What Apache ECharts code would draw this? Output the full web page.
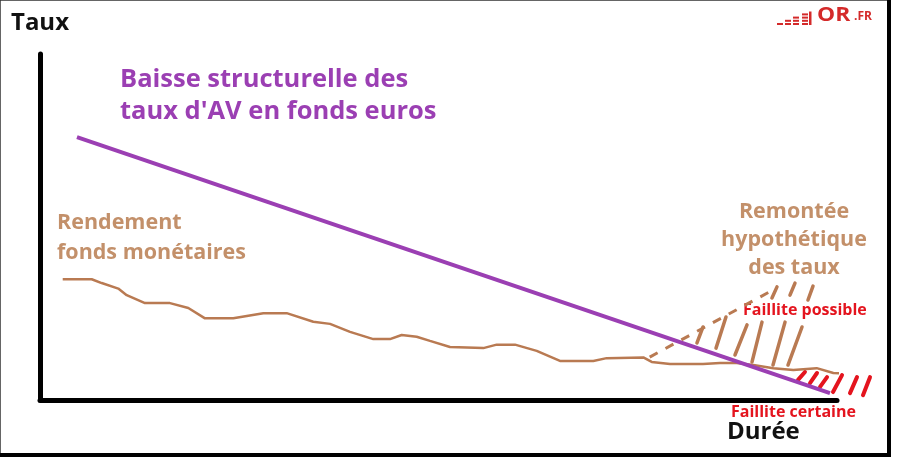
<!DOCTYPE html>
<html><head><meta charset="utf-8">
<script src="https://cdn.jsdelivr.net/npm/echarts@6/dist/echarts.min.js"></script>
<style>html,body{margin:0;padding:0;background:#fff}#c{width:912px;height:459px}</style>
</head><body><div id="c"></div>
<script>
// Durée (x) / Taux (y) in arbitrary units
const monetaryRate = [[2.85,34.9],[6.49,34.9],[7.74,33.8],[9.82,32.2],[10.88,30.3],[13.17,28.0],[16.31,28.0],[18.61,26.6],[20.70,23.6],[24.25,23.6],[28.02,25.1],[30.95,25.1],[34.29,22.6],[36.39,22.0],[38.90,19.7],[41.82,17.6],[43.91,17.6],[45.38,18.8],[47.26,18.3],[48.93,17.1],[51.44,15.3],[55.62,15.0],[57.30,16.0],[59.60,16.0],[62.32,14.2],[65.24,11.3],[69.42,11.3],[71.10,12.1],[75.70,12.3],[76.75,11.0],[79.05,10.4],[83.19,10.4],[85.32,10.7],[87.41,10.7],[89.50,10.1],[92.01,9.2],[94.52,8.7],[97.45,9.2],[99.54,7.8],[102.05,7.5],[103.73,8.1]];
const euroFundRate = [[4.64,76.0],[99.12,2.0]];
const hypotheticalRise = [[76.5,12.4],[92.2,32.1]];
const possibleHatch = [
  [[83.19,21.1],[82.43,16.5]],[[86.07,24.0],[84.82,15.0]],[[88.71,21.7],[87.20,13.0]],
  [[90.59,22.5],[89.34,11.0]],[[93.48,22.5],[91.97,10.1]],[[95.61,21.1],[93.85,10.1]],
  [[92.47,32.7],[91.84,29.5]],[[94.73,33.8],[94.10,30.3]],[[96.99,32.9],[96.36,28.9]]
];
const certainHatch = [
  [[95.98,8.1],[95.11,5.8]],[[97.49,7.8],[96.61,4.9]],[[98.75,6.6],[97.87,3.8]],
  [[100.63,7.2],[99.50,2.3]],[[102.51,6.6],[101.63,2.0]],[[104.14,6.6],[103.26,1.4]]
];
const labels = {
  yName:'Taux', xName:'Durée',
  euro:'Baisse structurelle des\ntaux d\'AV en fonds euros',
  mon:'Rendement\nfonds monétaires',
  rise:'Remontée\nhypothétique\ndes taux',
  possible:'Faillite possible', certain:'Faillite certaine'
};

const brown='#b97a52', brownText='#c3906a', purple='#9b3fb3', red='#e4141e';
const F='"Open Sans"';
const chart = echarts.init(document.getElementById('c'));
const logo=[];
const cols=[{x:777,n:1},{x:785,n:2},{x:793,n:3},{x:802,n:4}];
cols.forEach(c=>{for(let i=0;i<c.n;i++){logo.push({type:'rect',shape:{x:c.x,y:23-i*3.2,width:6,height:2},style:{fill:'#d42a2a'}});}});
logo.push({type:'rect',shape:{x:809,y:11.5,width:2.5,height:13.5},style:{fill:'#d42a2a'}});
chart.setOption({
  animation:false,
  grid:{left:40,right:75,top:54,bottom:59},
  xAxis:{type:'value',min:0,max:100,axisLine:{lineStyle:{color:'#000',width:5}},axisTick:{show:false},axisLabel:{show:false},splitLine:{show:false}},
  yAxis:{type:'value',min:0,max:100,name:labels.yName,nameGap:19,nameTextStyle:{fontFamily:F,fontWeight:'bold',fontSize:24,color:'#111',align:'center'},
    axisLine:{show:true,lineStyle:{color:'#000',width:5}},axisTick:{show:false},axisLabel:{show:false},splitLine:{show:false}},
  series:[
    {type:'line',data:monetaryRate,showSymbol:false,clip:false,lineStyle:{color:brown,width:2.5},z:3},
    {type:'line',data:hypotheticalRise,showSymbol:false,clip:false,lineStyle:{color:brown,width:3,type:[9,9]},z:3},
    {type:'lines',coordinateSystem:'cartesian2d',clip:false,data:possibleHatch.map(c=>({coords:c})),lineStyle:{color:brown,width:3.5,opacity:1,cap:'round'},z:3},
    {type:'lines',coordinateSystem:'cartesian2d',clip:false,data:certainHatch.map(c=>({coords:c})),lineStyle:{color:red,width:4,opacity:1,cap:'round'},z:3},
    {type:'line',data:euroFundRate,showSymbol:false,clip:false,lineStyle:{color:purple,width:4},z:4}
  ],
  graphic:[
    {type:'rect',shape:{x:0,y:0,width:889,height:455},style:{fill:'none',stroke:'#333',lineWidth:1.5},z:-1},
    {type:'rect',shape:{x:887,y:0,width:4,height:457},style:{fill:'#000'}},
    {type:'rect',shape:{x:0,y:453,width:891,height:4},style:{fill:'#000'}},
    {type:'text',left:120,top:64,style:{text:labels.euro,font:'bold 25.5px '+F,fill:purple,lineHeight:32}},
    {type:'text',left:57,top:208,style:{text:labels.mon,font:'bold 21.5px '+F,fill:brownText,lineHeight:30}},
    {type:'text',x:794,y:198,style:{text:labels.rise,font:'bold 21.5px '+F,fill:brownText,lineHeight:28,textAlign:'center'}},
    {type:'text',left:743,top:302,style:{text:labels.possible,font:'bold 16px '+F,fill:red}},
    {type:'text',left:731,top:404,style:{text:labels.certain,font:'bold 16px '+F,fill:red}},
    {type:'text',left:727,top:420,style:{text:labels.xName,font:'bold 24px '+F,fill:'#111'}},
    {type:'text',x:817,y:6,scaleX:1.2,style:{text:'OR',font:'bold 19px '+F,fill:'#d42a2a'}},
    {type:'text',x:854,y:11,style:{text:'.FR',font:'bold 12px '+F,fill:'#d42a2a'}},
    ...logo
  ]
});
</script></body></html>
